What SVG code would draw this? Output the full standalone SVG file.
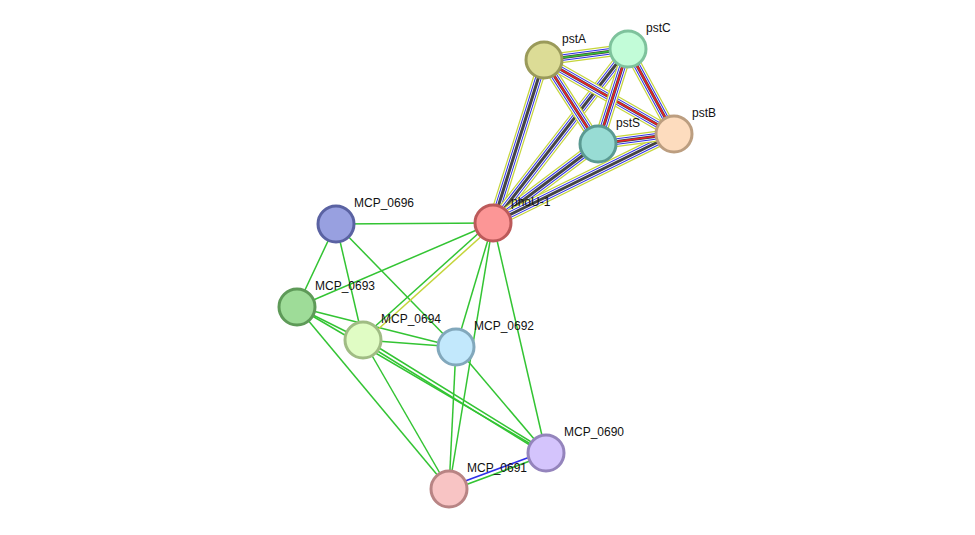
<svg xmlns="http://www.w3.org/2000/svg" width="975" height="535" viewBox="0 0 975 535">
<style>
.g{stroke:#33c433;stroke-width:1.5;fill:none}
.a{stroke:#c5d53a;stroke-width:11}
.w{stroke:#fff;stroke-width:8.6}
.b{stroke:#2f2fe8;stroke-width:6.6}
.w2{stroke:#fff;stroke-width:4.6}
.k{stroke:#444;stroke-width:3}
.r{stroke:#ee2222;stroke-width:1.6}
.c{stroke:#33c433;stroke-width:1.6}
.n{stroke-width:3}
text{font-family:"Liberation Sans",Arial,sans-serif;font-size:12px;fill:#111}
</style>
<rect width="975" height="535" fill="#fff"/>
<g id="connectors">
<line class="g" x1="336" y1="224" x2="493" y2="223"/>
<line class="g" x1="336" y1="224" x2="297" y2="307"/>
<line class="g" x1="336" y1="224" x2="363" y2="340"/>
<line class="g" x1="336" y1="224" x2="456" y2="347"/>
<line class="g" x1="297" y1="307" x2="493" y2="223"/>
<line class="g" x1="297" y1="307" x2="363" y2="340"/>
<line class="g" x1="297" y1="307" x2="456" y2="347"/>
<line class="g" x1="297" y1="307" x2="546" y2="453"/>
<line class="g" x1="297" y1="307" x2="449" y2="489"/>
<line class="g" x1="363" y1="340" x2="456" y2="347"/>
<line class="g" x1="363" y1="338" x2="546" y2="451"/>
<line class="g" x1="363" y1="342" x2="546" y2="455"/>
<line class="g" x1="363" y1="340" x2="449" y2="489"/>
<line class="g" x1="456" y1="347" x2="493" y2="223"/>
<line class="g" x1="456" y1="347" x2="449" y2="489"/>
<line class="g" x1="456" y1="347" x2="546" y2="453"/>
<line class="g" x1="493" y1="223" x2="546" y2="453"/>
<line class="g" x1="493" y1="223" x2="449" y2="489"/>
<line class="g" x1="491" y1="222" x2="361" y2="339"/>
<line x1="495" y1="224" x2="365" y2="341" stroke="#c5d53a" stroke-width="1.5"/>
<line x1="449" y1="487" x2="546" y2="451" stroke="#2f2fe8" stroke-width="1.5"/>
<line class="g" x1="449" y1="491" x2="546" y2="455"/>
<g fill="none">
<g><line class="a" x1="493" y1="223" x2="544" y2="60"/><line class="w" x1="493" y1="223" x2="544" y2="60"/><line class="b" x1="493" y1="223" x2="544" y2="60"/><line class="w2" x1="493" y1="223" x2="544" y2="60"/><line class="k" x1="493" y1="223" x2="544" y2="60"/></g>
<g><line class="a" x1="493" y1="223" x2="628" y2="49"/><line class="w" x1="493" y1="223" x2="628" y2="49"/><line class="b" x1="493" y1="223" x2="628" y2="49"/><line class="w2" x1="493" y1="223" x2="628" y2="49"/><line class="k" x1="493" y1="223" x2="628" y2="49"/></g>
<g><line class="a" x1="493" y1="223" x2="598" y2="144"/><line class="w" x1="493" y1="223" x2="598" y2="144"/><line class="b" x1="493" y1="223" x2="598" y2="144"/><line class="w2" x1="493" y1="223" x2="598" y2="144"/><line class="k" x1="493" y1="223" x2="598" y2="144"/></g>
<g><line class="a" x1="493" y1="223" x2="674" y2="134"/><line class="w" x1="493" y1="223" x2="674" y2="134"/><line class="b" x1="493" y1="223" x2="674" y2="134"/><line class="w2" x1="493" y1="223" x2="674" y2="134"/><line class="k" x1="493" y1="223" x2="674" y2="134"/></g>
<g><line class="a" x1="544" y1="60" x2="628" y2="49"/><line class="w" x1="544" y1="60" x2="628" y2="49"/><line class="b" x1="544" y1="60" x2="628" y2="49"/><line class="w2" x1="544" y1="60" x2="628" y2="49"/><line class="k" x1="544" y1="60" x2="628" y2="49"/><line class="c" x1="544" y1="60" x2="628" y2="49"/></g>
<g><line class="a" x1="544" y1="60" x2="598" y2="144"/><line class="w" x1="544" y1="60" x2="598" y2="144"/><line class="b" x1="544" y1="60" x2="598" y2="144"/><line class="w2" x1="544" y1="60" x2="598" y2="144"/><line class="k" x1="544" y1="60" x2="598" y2="144"/><line class="r" x1="544" y1="60" x2="598" y2="144"/></g>
<g><line class="a" x1="544" y1="60" x2="674" y2="134"/><line class="w" x1="544" y1="60" x2="674" y2="134"/><line class="b" x1="544" y1="60" x2="674" y2="134"/><line class="w2" x1="544" y1="60" x2="674" y2="134"/><line class="k" x1="544" y1="60" x2="674" y2="134"/><line class="r" x1="544" y1="60" x2="674" y2="134"/></g>
<g><line class="a" x1="628" y1="49" x2="598" y2="144"/><line class="w" x1="628" y1="49" x2="598" y2="144"/><line class="b" x1="628" y1="49" x2="598" y2="144"/><line class="w2" x1="628" y1="49" x2="598" y2="144"/><line class="k" x1="628" y1="49" x2="598" y2="144"/><line class="r" x1="628" y1="49" x2="598" y2="144"/></g>
<g><line class="a" x1="628" y1="49" x2="674" y2="134"/><line class="w" x1="628" y1="49" x2="674" y2="134"/><line class="b" x1="628" y1="49" x2="674" y2="134"/><line class="w2" x1="628" y1="49" x2="674" y2="134"/><line class="k" x1="628" y1="49" x2="674" y2="134"/><line class="r" x1="628" y1="49" x2="674" y2="134"/></g>
<g><line class="a" x1="598" y1="144" x2="674" y2="134"/><line class="w" x1="598" y1="144" x2="674" y2="134"/><line class="b" x1="598" y1="144" x2="674" y2="134"/><line class="w2" x1="598" y1="144" x2="674" y2="134"/><line class="k" x1="598" y1="144" x2="674" y2="134"/><line class="r" x1="598" y1="144" x2="674" y2="134"/></g>
</g>
</g>
<g id="pstA"><circle class="n" cx="544" cy="60" r="18" fill="#dcdc96" stroke="#9a9a5a"/><text x="562" y="43">pstA</text></g>
<g id="pstC"><circle class="n" cx="628" cy="49" r="18" fill="#c2fcd8" stroke="#7ec29c"/><text x="646" y="32">pstC</text></g>
<g id="pstB"><circle class="n" cx="674" cy="134" r="18" fill="#fddcbe" stroke="#bc9e80"/><text x="692" y="117">pstB</text></g>
<g id="pstS"><circle class="n" cx="598" cy="144" r="18" fill="#98dcd4" stroke="#5a9a92"/><text x="616" y="127">pstS</text></g>
<g id="phoU-1"><circle class="n" cx="493" cy="223" r="18" fill="#fc9696" stroke="#bc5a5a"/><text x="511" y="206">phoU-1</text></g>
<g id="MCP_0696"><circle class="n" cx="336" cy="224" r="18" fill="#98a0e0" stroke="#5a62a2"/><text x="354" y="207">MCP_0696</text></g>
<g id="MCP_0693"><circle class="n" cx="297" cy="307" r="18" fill="#9edc98" stroke="#5e9a58"/><text x="315" y="290">MCP_0693</text></g>
<g id="MCP_0694"><circle class="n" cx="363" cy="340" r="18" fill="#e0fcc4" stroke="#a0bc84"/><text x="381" y="323">MCP_0694</text></g>
<g id="MCP_0692"><circle class="n" cx="456" cy="347" r="18" fill="#c2e8fc" stroke="#82a8bc"/><text x="474" y="330">MCP_0692</text></g>
<g id="MCP_0690"><circle class="n" cx="546" cy="453" r="18" fill="#d4c4fc" stroke="#9484bc"/><text x="564" y="436">MCP_0690</text></g>
<g id="MCP_0691"><circle class="n" cx="449" cy="489" r="18" fill="#f8c4c4" stroke="#b88484"/><text x="467" y="472">MCP_0691</text></g>
</svg>
